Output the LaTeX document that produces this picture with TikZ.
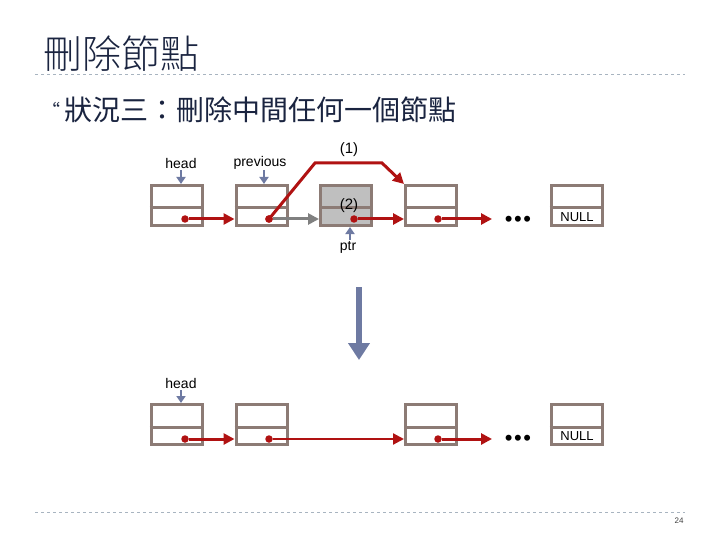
\documentclass[tikz,border=0pt]{standalone}
\usepackage{fontspec}
\setmainfont{Liberation Sans}
\newfontfamily\cjk{Noto Sans CJK TC}
\newfontfamily\cjklight{Noto Sans CJK TC}[UprightFont={* Light}]
\usetikzlibrary{arrows.meta}
\definecolor{boxc}{HTML}{8C7B75}
\definecolor{redc}{HTML}{B01212}
\definecolor{ptrc}{HTML}{6E7AA2}
\definecolor{grayarr}{HTML}{808080}
\definecolor{navy}{HTML}{1A2440}
\definecolor{dashc}{HTML}{A8B4C0}
\begin{document}
\begin{tikzpicture}[x=1pt,y=-1pt,
  cell/.style={draw=boxc,line width=3pt,minimum width=51pt,minimum height=40pt,inner sep=0pt},
  divline/.style={draw=boxc,line width=3pt},
  redarr/.style={draw=redc,line width=3pt,-{Triangle[length=11pt,width=11pt]}},
  grayarrow/.style={draw=grayarr,line width=3pt,-{Triangle[length=11pt,width=11pt]}},
  ptrarr/.style={draw=ptrc,line width=2.4pt,-{Triangle[length=7pt,width=9pt]}},
  dotc/.style={circle,fill=redc,inner sep=0pt,minimum size=7.5pt},
  lbl/.style={font=\fontsize{14}{16}\selectfont,inner sep=0pt},
  ell/.style={font=\fontsize{22}{22}\selectfont,inner sep=0pt}
]
\useasboundingbox (0,0) rectangle (720,540);
% title
\node[anchor=west,inner sep=0pt,text=navy,font=\cjklight\fontsize{39}{40}\selectfont] (title) at (43,54) {刪除節點};
\draw[dashc,dashed,line width=0.8pt] (35,74) coordinate (l1) -- (685,74) coordinate (l2);
\node[inner sep=0pt,text=navy,font=\cjk\fontsize{18}{18}\selectfont] (bul) at (51,110) {“};
\node[anchor=west,inner sep=0pt,text=navy,font=\cjk\fontsize{28}{30}\selectfont] (sub) at (64,110) {狀況三：刪除中間任何一個節點};

% top row
\node[cell] (b1) at (176.5,205.5) {};
\node[cell] (b2) at (261.5,205.5) {};
\node[cell,fill=black!25] (b3) at (346,205.5) {};
\node[cell] (b4) at (431,205.5) {};
\node[cell] (b5) at (576.5,205.5) {};
\foreach \b in {b1,b2,b3,b4,b5}{
  \draw[divline] ([yshift=-2.5pt]\b.west) -- ([yshift=-2.5pt]\b.east);
}
\node[dotc] (d1) at (185,219) {};
\node[dotc] (d2) at (269,219) {};
\node[dotc] (d3) at (354,219) {};
\node[dotc] (d4) at (438,219) {};
\coordinate (e4) at (492,219);
\node[ell] (dots1) at (518,221) {•\kern1.5pt•\kern1.5pt•};
\node[lbl,font=\fontsize{13}{14}\selectfont] (null1) at (577,217) {NULL};

\node[lbl] (headt) at (181,163) {head};
\node[lbl] (prevt) at (260,163) {previous};
\node[lbl] (ptrt) at (348,247) {ptr};
\node[lbl,font=\fontsize{15}{16}\selectfont] (one) at (349,150) {(1)};
\node[lbl,font=\fontsize{15}{16}\selectfont] (two) at (349,206) {(2)};

\draw[ptrarr] (181,170) -- (b1.north -| 181,0);
\draw[ptrarr] (264,170) -- (b2.north -| 264,0);
\draw[ptrarr] (350,240) -- (b3.south -| 350,0);

\draw[grayarrow] (d2) -- (b3.west |- d2);
\draw[redarr] (d1) -- (b2.west |- d1);
\draw[redarr] (d3) -- (b4.west |- d3);
\draw[redarr] (d4) -- (e4);
\draw[redarr] (d2.center) -- (315,163) -- (382,163) -- (b4.north west);
\node[dotc] at (d2) {};

% big arrow
\coordinate (ba1) at (359,287);
\coordinate (ba2) at (359,360);
\draw[ptrc,line width=6pt,-{Triangle[length=17pt,width=21pt]}] (ba1) -- (ba2);

% bottom row
\node[cell] (c1) at (176.5,424.5) {};
\node[cell] (c2) at (261.5,424.5) {};
\node[cell] (c4) at (431,424.5) {};
\node[cell] (c5) at (576.5,424.5) {};
\foreach \b in {c1,c2,c4,c5}{
  \draw[divline] ([yshift=-2.5pt]\b.west) -- ([yshift=-2.5pt]\b.east);
}
\node[dotc] (f1) at (185,439) {};
\node[dotc] (f2) at (269,439) {};
\node[dotc] (f4) at (438,439) {};
\coordinate (g4) at (492,439);
\node[ell] (dots2) at (518,440) {•\kern1.5pt•\kern1.5pt•};
\node[lbl,font=\fontsize{13}{14}\selectfont] (null2) at (577,436) {NULL};
\node[lbl] (headb) at (181,383) {head};
\draw[ptrarr] (181,390) -- (c1.north -| 181,0);
\draw[redarr] (f1) -- (c2.west |- f1);
\draw[redarr,line width=2.2pt] (f2) -- (c4.west |- f2);
\draw[redarr] (f4) -- (g4);

% footer
\draw[dashc,dashed,line width=0.8pt] (35,512) coordinate (m1) -- (685,512) coordinate (m2);
\node[inner sep=0pt,font=\fontsize{8}{9}\selectfont,text=black!75] (pg) at (679,521) {24};
\end{tikzpicture}
\end{document}
